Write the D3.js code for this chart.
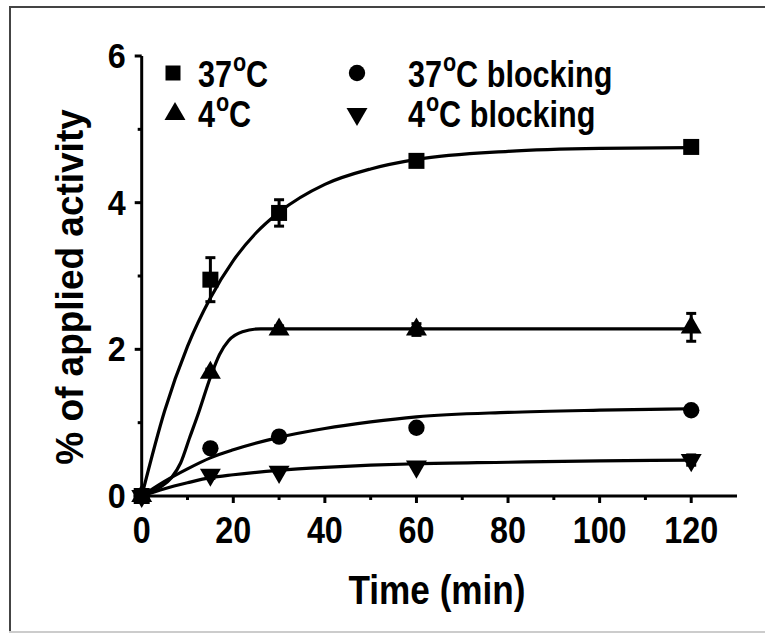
<!DOCTYPE html>
<html>
<head>
<meta charset="utf-8">
<script src="https://cdn.jsdelivr.net/npm/d3@7"></script>
<style>
  body { margin: 0; background: #fff; }
  svg { display: block; font-family: "Liberation Sans", Arial, sans-serif; font-weight: bold; }
</style>
</head>
<body>
<svg id="chart" width="765" height="633"></svg>
<script>
// measured points (time in min, % of applied activity, SEM)
const times = [0, 15, 30, 60, 120];
const sq37 = [0, 2.95, 3.86, 4.57, 4.76];
const sq37Err = [0, 0.30, 0.18, 0.03, 0.03];
const tri4 = [0, 1.68, 2.27, 2.27, 2.30];
const tri4Err = [0, 0.05, 0.05, 0.08, 0.19];
const circ37b = [0, 0.65, 0.81, 0.93, 1.17];
const circ37bErr = [0, 0, 0, 0, 0];
const inv4b = [0, 0.29, 0.33, 0.40, 0.49];
const inv4bErr = [0, 0.05, 0, 0, 0.07];

// fitted curves
const fitX37 = [0, 5, 10, 15, 20, 25, 30, 40, 50, 60, 80, 100, 120];
const fit37 = [0, 1.16, 2.04, 2.70, 3.21, 3.59, 3.87, 4.25, 4.46, 4.59, 4.70, 4.74, 4.75];
const fitX4 = [0, 4, 6.5, 8.5, 10.5, 12.5, 15, 17, 19, 22, 26, 30, 60, 120];
const fit4 = [0, 0.12, 0.25, 0.45, 0.80, 1.15, 1.62, 1.93, 2.12, 2.24, 2.28, 2.28, 2.28, 2.28];
const fitXb = [0, 5, 10, 15, 20, 30, 40, 50, 60, 80, 100, 120];
const fit37b = [0, 0.20, 0.37, 0.52, 0.63, 0.80, 0.92, 1.01, 1.08, 1.14, 1.17, 1.19];
const fit4b = [0, 0.10, 0.18, 0.25, 0.29, 0.35, 0.39, 0.42, 0.44, 0.46, 0.48, 0.49];

const xTicks = [0, 20, 40, 60, 80, 100, 120];
const xMinor = [10, 30, 50, 70, 90, 110];
const yTicks = [0, 2, 4, 6];
const yMinor = [1, 3, 5];

const svg = d3.select("#chart");

// frame round the figure
svg.append("line").attr("x1", 9).attr("x2", 765).attr("y1", 7).attr("y2", 7)
  .attr("stroke", "#444").attr("stroke-width", 2);
svg.append("line").attr("x1", 10).attr("x2", 10).attr("y1", 6).attr("y2", 633)
  .attr("stroke", "#444").attr("stroke-width", 2);
svg.append("line").attr("x1", 9).attr("x2", 765).attr("y1", 632).attr("y2", 632)
  .attr("stroke", "#ccc").attr("stroke-width", 2);

const x = d3.scaleLinear().domain([0, 130]).range([141.7, 737]);
const y = d3.scaleLinear().domain([0, 6]).range([496, 56]);

// narrow, tall text like the original
function label(parent, tx, ty, size, sx, sy) {
  return parent.append("g")
    .attr("transform", `translate(${tx},${ty}) scale(${sx},${sy})`)
    .append("text").attr("font-size", size);
}

// axes
const xAxis = svg.append("g").attr("transform", `translate(0,${y(0)})`);
xAxis.append("line").attr("x1", x(0)).attr("x2", x(130))
  .attr("stroke", "#000").attr("stroke-width", 3);
xAxis.selectAll(".maj").data(xTicks).enter().append("line")
  .attr("x1", d => x(d)).attr("x2", d => x(d)).attr("y1", 0).attr("y2", 7)
  .attr("stroke", "#000").attr("stroke-width", 3);
xAxis.selectAll(".min").data(xMinor).enter().append("line")
  .attr("x1", d => x(d)).attr("x2", d => x(d)).attr("y1", 0).attr("y2", 4)
  .attr("stroke", "#000").attr("stroke-width", 3);
xTicks.forEach(d => {
  label(xAxis, x(d), 47, 34, 0.95, 1.1).attr("text-anchor", "middle").text(d);
});

const yAxis = svg.append("g").attr("transform", `translate(${x(0)},0)`);
yAxis.append("line").attr("y1", y(0)).attr("y2", y(6))
  .attr("stroke", "#000").attr("stroke-width", 3);
yAxis.selectAll(".maj").data(yTicks).enter().append("line")
  .attr("y1", d => y(d)).attr("y2", d => y(d)).attr("x1", 0).attr("x2", -7)
  .attr("stroke", "#000").attr("stroke-width", 3);
yAxis.selectAll(".min").data(yMinor).enter().append("line")
  .attr("y1", d => y(d)).attr("y2", d => y(d)).attr("x1", 0).attr("x2", -4)
  .attr("stroke", "#000").attr("stroke-width", 3);
yTicks.forEach(d => {
  label(yAxis, -16, y(d) + 12, 34, 0.95, 1.05).attr("text-anchor", "end").text(d);
});

svg.append("g")
  .attr("transform", "translate(83,287) rotate(-90) scale(1,1.06)")
  .append("text")
  .attr("text-anchor", "middle").attr("font-size", 37)
  .text("% of applied activity");

label(svg, 437, 604, 37, 0.95, 1.1)
  .attr("text-anchor", "middle")
  .text("Time (min)");

// fitted curves
const line = d3.line().x(d => x(d[0])).y(d => y(d[1])).curve(d3.curveMonotoneX);
const curves = [
  d3.zip(fitX37, fit37),
  d3.zip(fitX4, fit4),
  d3.zip(fitXb, fit37b),
  d3.zip(fitXb, fit4b)
];
svg.selectAll(".fit").data(curves).enter().append("path")
  .attr("class", "fit")
  .attr("d", line)
  .attr("fill", "none").attr("stroke", "#000").attr("stroke-width", 3.2);

// data series with symbols
const series = [
  { vals: sq37, err: sq37Err, sym: d3.symbolSquare, size: 256, rot: 0 },
  { vals: tri4, err: tri4Err, sym: d3.symbolTriangle, size: 190, rot: 0 },
  { vals: circ37b, err: circ37bErr, sym: d3.symbolCircle, size: 210, rot: 0 },
  { vals: inv4b, err: inv4bErr, sym: d3.symbolTriangle, size: 190, rot: 180 }
];

series.forEach(s => {
  const pts = times.map((t, i) => ({ t: t, v: s.vals[i], e: s.err[i] }));
  const eb = svg.append("g");
  const withErr = pts.filter(p => p.e > 0);
  eb.selectAll(".bar").data(withErr).enter().append("line")
    .attr("x1", p => x(p.t)).attr("x2", p => x(p.t))
    .attr("y1", p => y(p.v - p.e)).attr("y2", p => y(p.v + p.e))
    .attr("stroke", "#000").attr("stroke-width", 3);
  eb.selectAll(".capT").data(withErr).enter().append("line")
    .attr("x1", p => x(p.t) - 5).attr("x2", p => x(p.t) + 5)
    .attr("y1", p => y(p.v + p.e)).attr("y2", p => y(p.v + p.e))
    .attr("stroke", "#000").attr("stroke-width", 3);
  eb.selectAll(".capB").data(withErr).enter().append("line")
    .attr("x1", p => x(p.t) - 5).attr("x2", p => x(p.t) + 5)
    .attr("y1", p => y(p.v - p.e)).attr("y2", p => y(p.v - p.e))
    .attr("stroke", "#000").attr("stroke-width", 3);
  svg.selectAll(null).data(pts).enter().append("path")
    .attr("d", d3.symbol().type(s.sym).size(s.size))
    .attr("transform", p => `translate(${x(p.t)},${y(p.v)}) rotate(${s.rot})`)
    .attr("fill", "#000");
});

// legend
const legendItems = [
  { sym: d3.symbolSquare, size: 225, rot: 0, sx: 173, sy: 73, tx: 198, ty: 87, pre: "37", post: "C" },
  { sym: d3.symbolTriangle, size: 190, rot: 0, sx: 175, sy: 114, tx: 198, ty: 127, pre: "4", post: "C" },
  { sym: d3.symbolCircle, size: 210, rot: 0, sx: 357, sy: 73, tx: 408, ty: 87, pre: "37", post: "C blocking" },
  { sym: d3.symbolTriangle, size: 190, rot: 180, sx: 357, sy: 114, tx: 408, ty: 127, pre: "4", post: "C blocking" }
];
const legend = svg.append("g");
legendItems.forEach(d => {
  legend.append("path")
    .attr("d", d3.symbol().type(d.sym).size(d.size))
    .attr("transform", `translate(${d.sx},${d.sy}) rotate(${d.rot})`)
    .attr("fill", "#000");
  const t = label(legend, d.tx, d.ty, 34, 0.9, 1.1);
  t.append("tspan").text(d.pre);
  t.append("tspan").attr("font-size", 24).attr("dx", 1).attr("dy", -15).text("o");
  t.append("tspan").attr("dy", 15).text(d.post);
});
</script>
</body>
</html>
